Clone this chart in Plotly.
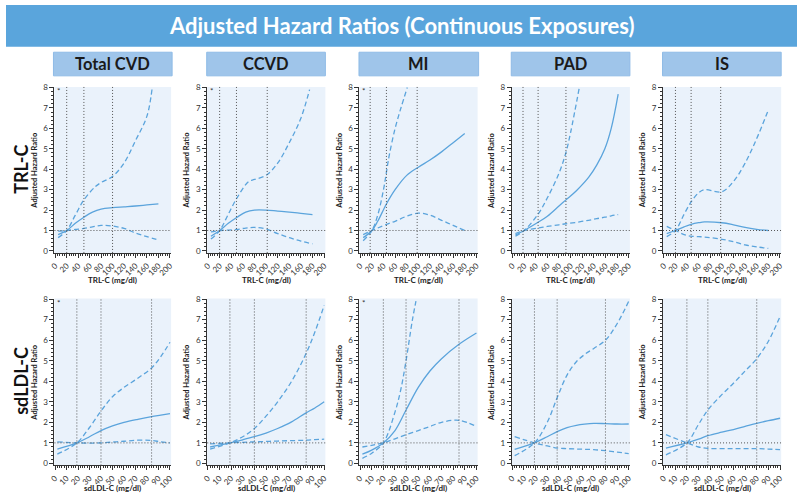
import plotly.graph_objects as go

W, H = 800, 498
LINE = "#5ba4dc"
GRID = "#555555"
FONT = "Lato"

outcomes = ["Total CVD", "CCVD", "MI", "PAD", "IS"]
exposures = ["TRL-C", "sdLDL-C"]

# ---------------- TRL-C row ----------------
trl_x = {
    "Total CVD": [5, 20, 35, 50, 65, 80, 100, 120, 140, 160, 180],
    "CCVD":      [5, 20, 35, 50, 65, 80, 100, 120, 140, 160, 180],
    "MI":        [5, 20, 30, 45, 60, 80, 100, 120, 140, 160, 180],
    "PAD":       [5, 20, 44, 60, 80, 92, 110, 131, 145, 159, 170, 182],
    "IS":        [5, 20, 35, 47, 60, 70, 100, 120, 140, 160, 180],
}
trl_est = {
    "Total CVD": [0.8, 1.0, 1.35, 1.65, 1.9, 2.05, 2.12, 2.16, 2.2, 2.25, 2.3],
    "CCVD":      [0.72, 1.0, 1.35, 1.65, 1.9, 2.0, 2.0, 1.95, 1.9, 1.84, 1.78],
    "MI":        [0.65, 1.0, 1.45, 2.3, 3.0, 3.7, 4.1, 4.45, 4.85, 5.3, 5.75],
    "PAD":       [0.78, 1.0, 1.4, 1.7, 2.2, 2.5, 2.95, 3.6, 4.2, 5.0, 6.0, 7.68],
    "IS":        [0.85, 1.0, 1.18, 1.3, 1.38, 1.42, 1.38, 1.28, 1.15, 1.06, 1.0],
}
trl_upper_x = {
    "Total CVD": [5, 20, 35, 50, 70, 80, 100, 120, 140, 160, 169],
    "CCVD":      [5, 20, 35, 50, 70, 80, 100, 120, 140, 160, 175],
    "MI":        [5, 20, 30, 40, 45, 50, 60, 70, 81],
    "PAD":       [5, 20, 44, 60, 80, 92, 100, 115],
    "IS":        [5, 20, 35, 47, 60, 70, 100, 120, 140, 160, 180],
}
trl_upper = {
    "Total CVD": [0.65, 1.0, 1.75, 2.5, 3.15, 3.35, 3.65, 4.3, 5.4, 6.6, 7.95],
    "CCVD":      [0.58, 1.0, 1.8, 2.6, 3.4, 3.5, 3.7, 4.3, 5.3, 6.5, 7.9],
    "MI":        [0.5, 1.0, 1.75, 3.0, 3.85, 4.7, 6.0, 7.0, 8.0],
    "PAD":       [0.72, 1.0, 1.8, 2.6, 3.8, 4.82, 5.8, 8.0],
    "IS":        [0.7, 1.0, 1.8, 2.4, 2.85, 3.0, 2.9, 3.4, 4.3, 5.5, 6.9],
}
trl_lower = {
    "Total CVD": [0.97, 1.0, 1.05, 1.1, 1.18, 1.25, 1.22, 1.1, 0.88, 0.7, 0.53],
    "CCVD":      [0.93, 1.0, 1.02, 1.05, 1.12, 1.15, 1.07, 0.85, 0.65, 0.48, 0.35],
    "MI":        [0.8, 1.0, 1.12, 1.3, 1.45, 1.7, 1.85, 1.75, 1.5, 1.25, 1.0],
    "PAD":       [0.85, 1.0, 1.12, 1.2, 1.28, 1.33, 1.4, 1.5, 1.58, 1.65, 1.72, 1.78],
    "IS":        [1.2, 1.0, 0.8, 0.72, 0.7, 0.68, 0.57, 0.45, 0.3, 0.2, 0.12],
}

# ---------------- sdLDL-C row ----------------
sd_x = {
    "Total CVD": [2, 19, 30, 40, 50, 60, 72, 84, 92, 100],
    "CCVD":      [2, 19, 30, 40, 50, 60, 72, 84, 92, 100],
    "MI":        [2, 10, 20, 30, 39.5, 50, 60, 70, 85, 100],
    "PAD":       [2, 19, 30, 38.5, 47, 55, 62, 70, 80, 90, 100],
    "IS":        [2, 20, 30, 38, 50, 60, 70, 80, 90, 100],
}
sd_est = {
    "Total CVD": [0.7, 1.0, 1.3, 1.6, 1.83, 2.0, 2.15, 2.28, 2.35, 2.42],
    "CCVD":      [0.8, 1.0, 1.15, 1.3, 1.48, 1.7, 2.02, 2.45, 2.7, 3.0],
    "MI":        [0.45, 0.65, 1.0, 1.6, 2.6, 3.7, 4.5, 5.1, 5.8, 6.35],
    "PAD":       [0.68, 1.0, 1.3, 1.55, 1.74, 1.85, 1.91, 1.95, 1.94, 1.92, 1.92],
    "IS":        [0.75, 1.0, 1.18, 1.35, 1.52, 1.65, 1.8, 1.95, 2.08, 2.2],
}
sd_upper_x = {
    "Total CVD": [2, 19, 30, 40, 50, 60, 72, 84, 92, 100],
    "CCVD":      [2, 19, 30, 40, 50, 60, 72, 84, 92, 100],
    "MI":        [2, 10, 20, 30, 35, 39.5, 45, 48],
    "PAD":       [2, 19, 30, 38.5, 47, 55, 62, 70, 80, 90, 100],
    "IS":        [2, 20, 30, 38, 50, 60, 70, 80, 90, 100],
}
sd_upper = {
    "Total CVD": [0.45, 1.0, 1.75, 2.55, 3.25, 3.7, 4.15, 4.65, 5.2, 5.9],
    "CCVD":      [0.7, 1.0, 1.3, 1.7, 2.3, 3.0, 4.0, 5.3, 6.4, 7.7],
    "MI":        [0.25, 0.5, 1.0, 2.5, 3.6, 5.0, 7.0, 7.9],
    "PAD":       [0.38, 1.0, 2.0, 3.2, 4.3, 4.95, 5.3, 5.6, 6.0, 6.8, 7.9],
    "IS":        [0.42, 1.0, 1.9, 2.6, 3.35, 3.9, 4.5, 5.1, 5.95, 7.15],
}
sd_lower = {
    "Total CVD": [1.05, 1.0, 0.99, 1.0, 1.04, 1.08, 1.13, 1.12, 1.05, 1.0],
    "CCVD":      [0.95, 1.0, 1.03, 1.05, 1.07, 1.09, 1.11, 1.13, 1.16, 1.18],
    "MI":        [0.8, 0.88, 1.0, 1.2, 1.4, 1.6, 1.8, 2.0, 2.1, 1.8],
    "PAD":       [1.3, 1.0, 0.85, 0.75, 0.72, 0.7, 0.69, 0.67, 0.62, 0.55, 0.48],
    "IS":        [1.4, 1.0, 0.8, 0.73, 0.72, 0.72, 0.72, 0.72, 0.7, 0.67],
}
sd_lower_x = sd_x

# percentile reference lines (vertical dotted)
trl_pct = {"Total CVD": [20, 50, 100], "CCVD": [20, 49, 102], "MI": [17, 45, 98],
           "PAD": [18, 44, 92], "IS": [20, 47, 98]}
sd_pct = {"Total CVD": [19, 40, 84], "CCVD": [19, 40, 84.5], "MI": [20, 39.5, 85],
          "PAD": [19, 38.5, 80], "IS": [20, 38, 80]}

# significance asterisk flags
trl_star = {"Total CVD": True, "CCVD": True, "MI": True, "PAD": False, "IS": False}
sd_star = {"Total CVD": True, "CCVD": False, "MI": True, "PAD": False, "IS": False}

trl_ticks = list(range(0, 201, 20))
sd_ticks = list(range(0, 101, 10))
y_ticks = list(range(0, 9))

# ---------------- layout geometry (pixels) ----------------
col_px = [(49, 167), (203.5, 323), (357.5, 477), (511.5, 631), (664.5, 784)]
row_px = [(83.3, 252), (298.3, 468)]
xranges = [[-1.4, 202.2], [-0.5, 101]]
yrange = [-0.1, 8.03]

def px_x(p):
    return p / W

def px_y(p):
    return 1 - p / H

fig = go.Figure()
shapes = []
annotations = []
layout = {}

rows = [
    (exposures[0], trl_x, trl_est, trl_upper_x, trl_upper, trl_x, trl_lower, trl_pct, trl_star, trl_ticks, 4),
    (exposures[1], sd_x, sd_est, sd_upper_x, sd_upper, sd_lower_x, sd_lower, sd_pct, sd_star, sd_ticks, 2),
]

DOT = "1px,2px"
DASH = "5px,3px"

n = 0
for r, (expo, ex, est, ux, up, lx, lo, pct, star, ticks, minor_dt) in enumerate(rows):
    for c, oc in enumerate(outcomes):
        n += 1
        xa = "x" if n == 1 else f"x{n}"
        ya = "y" if n == 1 else f"y{n}"
        xkey = "xaxis" if n == 1 else f"xaxis{n}"
        ykey = "yaxis" if n == 1 else f"yaxis{n}"
        x0, x1 = col_px[c]
        y0, y1 = row_px[r]
        layout[xkey] = dict(
            domain=[px_x(x0), px_x(x1)], anchor=ya, range=xranges[r],
            tickmode="array", tickvals=ticks, ticktext=[str(t) for t in ticks],
            tickangle=-45, ticks="outside", ticklen=4, tickwidth=1, tickcolor="#333",
            minor=dict(ticks="outside", ticklen=2, dtick=minor_dt, tickcolor="#333"),
            showline=True, linecolor="#333", linewidth=1, showgrid=False, zeroline=False,
            tickfont=dict(family=FONT, size=8, color="#333"), fixedrange=True,
        )
        layout[ykey] = dict(
            domain=[px_y(y1), px_y(y0)], anchor=xa, range=yrange,
            tickmode="array", tickvals=y_ticks, ticks="outside", ticklen=4, tickwidth=1,
            tickcolor="#333", minor=dict(ticks="outside", ticklen=2, dtick=0.2, tickcolor="#333"),
            showline=True, linecolor="#333", linewidth=1, showgrid=False, zeroline=False,
            tickfont=dict(family=FONT, size=8, color="#333"), fixedrange=True,
        )
        shapes.append(dict(type="rect", xref=f"{xa} domain", yref=f"{ya} domain",
                           x0=0, x1=1, y0=0, y1=1, fillcolor="#eaf2fb",
                           line=dict(width=0), layer="below"))
        shapes.append(dict(type="line", xref=f"{xa} domain", yref=ya, x0=0, x1=1,
                           y0=1, y1=1, line=dict(color=GRID, width=1, dash=DOT)))
        for v in pct[oc]:
            shapes.append(dict(type="line", xref=xa, yref=f"{ya} domain", x0=v, x1=v,
                               y0=0, y1=1, line=dict(color=GRID, width=1, dash=DOT)))
        common = dict(xaxis=xa, yaxis=ya, mode="lines", showlegend=False, hoverinfo="skip")
        fig.add_trace(go.Scatter(x=ux[oc], y=up[oc], line=dict(color=LINE, width=1.3, dash=DASH, shape="spline", smoothing=1.0), **common))
        fig.add_trace(go.Scatter(x=lx[oc], y=lo[oc], line=dict(color=LINE, width=1.3, dash=DASH, shape="spline", smoothing=1.0), **common))
        fig.add_trace(go.Scatter(x=ex[oc], y=est[oc], line=dict(color=LINE, width=1.3, shape="spline", smoothing=1.0), **common))
        if star[oc]:
            annotations.append(dict(xref=f"{xa} domain", yref=f"{ya} domain", x=0.035, y=0.975,
                                    text="*", showarrow=False, xanchor="center", yanchor="middle",
                                    font=dict(family=FONT, size=8, color="#333")))
        annotations.append(dict(xref="paper", yref="paper", x=px_x(x0 - 20), y=px_y((y0 + y1) / 2),
                                text="<b>Adjusted Hazard Ratio</b>", textangle=-90, showarrow=False,
                                xanchor="center", yanchor="middle",
                                font=dict(family=FONT, size=7.5, color="#222")))
        annotations.append(dict(xref="paper", yref="paper", x=px_x((x0 + x1) / 2),
                                y=px_y(279 if r == 0 else 491),
                                text=f"<b>{expo} (mg/dl)</b>", showarrow=False,
                                xanchor="center", yanchor="middle",
                                font=dict(family=FONT, size=8, color="#222")))

# title bar
shapes.append(dict(type="rect", xref="paper", yref="paper", x0=0, x1=1, y0=px_y(42.5), y1=1,
                   fillcolor="#5aa5dc", line=dict(width=0), layer="below"))
annotations.append(dict(xref="paper", yref="paper", x=0.5, y=px_y(21), showarrow=False,
                        text="<b>Adjusted Hazard Ratios (Continuous Exposures)</b>",
                        xanchor="center", yanchor="middle",
                        font=dict(family=FONT, size=22, color="white")))
header_px = [(48, 168), (203, 323), (357, 478), (511, 631), (664, 784)]
for (h0, h1), oc in zip(header_px, outcomes):
    shapes.append(dict(type="rect", xref="paper", yref="paper", x0=px_x(h0), x1=px_x(h1),
                       y0=px_y(72), y1=px_y(48), fillcolor="#9fc5ea",
                       line=dict(color="#8fbbe6", width=1), layer="below"))
    annotations.append(dict(xref="paper", yref="paper", x=px_x((h0 + h1) / 2), y=px_y(60),
                            text=f"<b>{oc}</b>", showarrow=False, xanchor="center", yanchor="middle",
                            font=dict(family=FONT, size=16.5, color="#1a1a1a")))
for (y0, y1), expo in zip(row_px, exposures):
    annotations.append(dict(xref="paper", yref="paper", x=px_x(15), y=px_y((y0 + y1) / 2 - 1),
                            text=f"<b>{expo}</b>", textangle=-90, showarrow=False,
                            xanchor="center", yanchor="middle",
                            font=dict(family=FONT, size=18, color="#111")))

fig.update_layout(
    width=W, height=H, margin=dict(l=0, r=0, t=0, b=0),
    paper_bgcolor="white", plot_bgcolor="rgba(0,0,0,0)",
    shapes=shapes, annotations=annotations, showlegend=False, **layout,
)
fig.write_html(
    "out.html",
    config={"displayModeBar": False},
    post_script="document.body.style.margin='0';document.body.style.overflow='hidden';",
)
